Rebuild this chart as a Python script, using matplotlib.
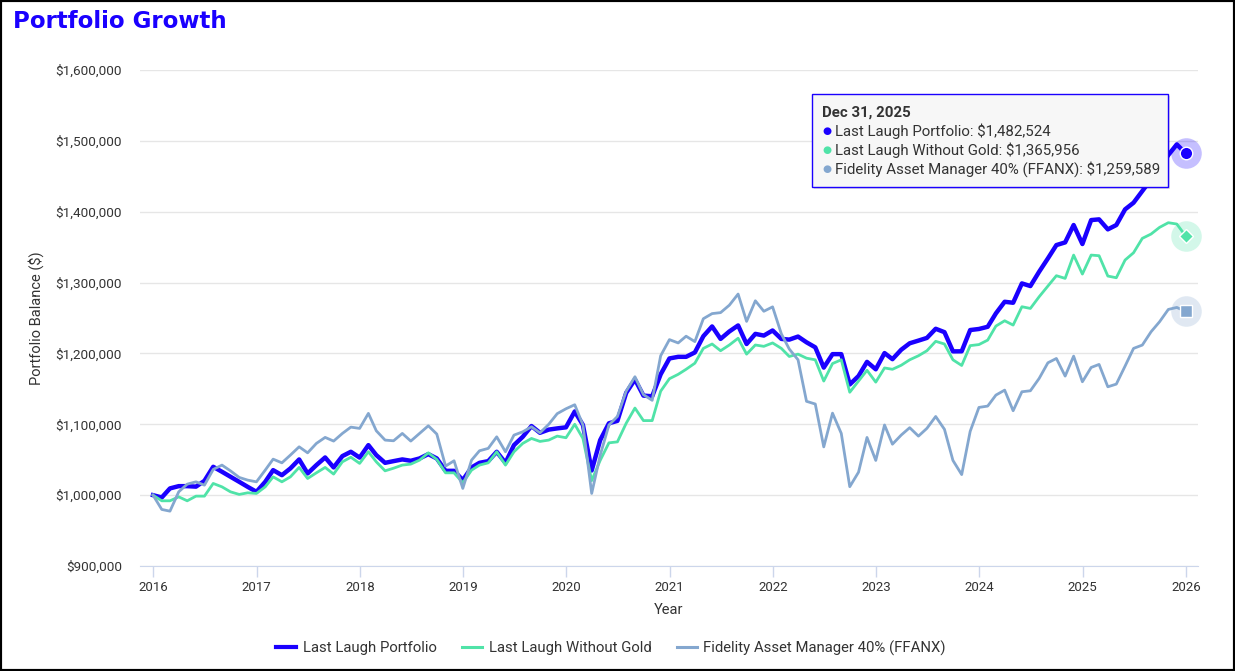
# plot.py
# Portfolio growth chart: three monthly series, Jan 2016 - Dec 2025

import pandas as pd
import matplotlib.pyplot as plt
import matplotlib.dates as mdates
from matplotlib.ticker import FuncFormatter
from matplotlib.patches import Rectangle, FancyBboxPatch

plt.rcParams['font.family'] = ['Roboto', 'DejaVu Sans']

# --- data ---
dates = pd.date_range("2015-12-31", periods=121, freq="ME")

last_laugh = [
    1000000, 996700, 1009500, 1012700, 1012700, 1012000, 1020200, 1040000, 1033000, 1026000,
    1018800, 1011700, 1004700, 1018800, 1035300, 1028200, 1037700, 1050400, 1030600, 1042400,
    1053200, 1039100, 1055100, 1061200, 1053000, 1070600, 1056500, 1045600, 1048000, 1050400,
    1048500, 1051800, 1057900, 1051800, 1034300, 1034300, 1021200, 1039100, 1045600, 1048000,
    1061200, 1045600, 1070600, 1082300, 1097500, 1088000, 1092500, 1094200, 1095700, 1118100,
    1099000, 1034800, 1077600, 1101400, 1104800, 1144300, 1163300, 1140500, 1139500, 1170500,
    1192900, 1195200, 1195200, 1201400, 1224300, 1238100, 1220500, 1231000, 1239500, 1213300,
    1227600, 1225200, 1232400, 1220500, 1219500, 1223800, 1215700, 1208600, 1180000, 1199000,
    1199000, 1156200, 1168100, 1188100, 1177600, 1200500, 1191900, 1205200, 1214300, 1218100,
    1221900, 1234800, 1230000, 1202900, 1203000, 1233000, 1234500, 1237600, 1256500, 1272900,
    1271500, 1298800, 1295100, 1315300, 1334100, 1352900, 1356700, 1381200, 1354400, 1388200,
    1389200, 1375100, 1381200, 1403300, 1412700, 1429200, 1445700, 1462000, 1480000, 1495000,
    1482524,
]

without_gold = [
    1000000, 992000, 992000, 997600, 992000, 998600, 998600, 1016500, 1011700, 1004700,
    1001000, 1003300, 1002400, 1011700, 1025800, 1018800, 1025800, 1039100, 1023500, 1031500,
    1039100, 1029700, 1047000, 1053500, 1044800, 1061200, 1047000, 1034300, 1038000, 1042400,
    1043800, 1049400, 1059700, 1050400, 1031500, 1031500, 1017400, 1035300, 1042400, 1045600,
    1061200, 1042400, 1061200, 1073000, 1080000, 1075800, 1077700, 1083300, 1081000, 1100000,
    1080000, 1020500, 1049000, 1073800, 1075200, 1101400, 1122900, 1105200, 1105200, 1146700,
    1164300, 1170500, 1177600, 1186200, 1207100, 1213300, 1203800, 1211900, 1221400, 1199000,
    1211900, 1210000, 1214800, 1207100, 1195700, 1199000, 1193300, 1191000, 1161000, 1185700,
    1191000, 1145200, 1161000, 1176200, 1159500, 1179500, 1177600, 1183300, 1191000, 1196700,
    1203800, 1217100, 1213300, 1191000, 1183000, 1211000, 1212500, 1218800, 1238600, 1246100,
    1240000, 1265900, 1263500, 1280000, 1295100, 1309700, 1305900, 1338800, 1312000, 1338800,
    1337900, 1309200, 1306800, 1331800, 1342100, 1362400, 1368500, 1377900, 1384500, 1382600,
    1365956,
]

ffanx = [
    1000000, 979800, 977400, 1004700, 1015500, 1018800, 1014100, 1036300, 1042400, 1034300,
    1025000, 1021200, 1018800, 1035300, 1050800, 1045600, 1056500, 1068200, 1059700, 1073000,
    1081500, 1076300, 1087100, 1096000, 1094200, 1115400, 1090800, 1077700, 1076700, 1087100,
    1076300, 1087100, 1097900, 1086200, 1041000, 1048500, 1009500, 1049400, 1062600, 1066000,
    1082300, 1061200, 1084700, 1089400, 1096500, 1088000, 1100000, 1115000, 1121900, 1127600,
    1099000, 1002400, 1056200, 1099000, 1111000, 1146700, 1167100, 1141900, 1133800, 1196700,
    1219500, 1214800, 1224300, 1216700, 1249000, 1256200, 1257600, 1268100, 1283800, 1245200,
    1274300, 1259500, 1265700, 1227600, 1206200, 1191000, 1132400, 1128600, 1068100, 1115700,
    1087100, 1011900, 1032400, 1081400, 1049000, 1099000, 1071900, 1084800, 1095200, 1083300,
    1094300, 1111000, 1092900, 1049000, 1029000, 1090000, 1123800, 1125700, 1141200, 1148200,
    1119100, 1145900, 1147300, 1164700, 1186800, 1192900, 1168000, 1196200, 1160000, 1180200,
    1184500, 1152900, 1156700, 1182100, 1207100, 1211800, 1230600, 1244700, 1262100, 1264900,
    1259589,
]

series_names = ["Last Laugh Portfolio", "Last Laugh Without Gold", "Fidelity Asset Manager 40% (FFANX)"]
colors = ["#1a00ff", "#50e3a8", "#84a7cf"]

W, H = 1235, 671
fig = plt.figure(figsize=(W / 100, H / 100), dpi=100)
ax = fig.add_axes([140 / W, 1 - 566 / H, (1198 - 140) / W, (566 - 70) / H])

# lines (blue at the bottom, FFANX on top)
ax.plot(dates, last_laugh, color=colors[0], lw=3.2, label=series_names[0], zorder=3,
        solid_joinstyle='round')
ax.plot(dates, without_gold, color=colors[1], lw=2.0, label=series_names[1], zorder=4)
ax.plot(dates, ffanx, color=colors[2], lw=2.0, label=series_names[2], zorder=5)

# hover markers with halos on the last point
last = dates[-1]
for vals, c, m, ms in [(last_laugh, colors[0], 'o', 9), (without_gold, colors[1], 'D', 7),
                       (ffanx, colors[2], 's', 8)]:
    ax.plot([last], [vals[-1]], marker='o', ms=22, color=c, alpha=0.25, mew=0, zorder=6,
            clip_on=False)
    ax.plot([last], [vals[-1]], marker=m, ms=ms, color=c, mec='white', mew=1, zorder=7,
            clip_on=False)

# axes styling
ax.set_ylim(900000, 1600000)
ax.set_xlim(pd.Timestamp("2015-11-15"), pd.Timestamp("2026-02-13"))
ax.set_yticks(range(900000, 1600001, 100000))
ax.yaxis.set_major_formatter(FuncFormatter(lambda v, p: "${:,.0f}".format(v)))
ax.set_xticks([pd.Timestamp(f"{y}-01-01") for y in range(2016, 2027)])
ax.xaxis.set_major_formatter(mdates.DateFormatter("%Y"))
ax.grid(axis='y', color='#e6e6e6', lw=1)
ax.set_axisbelow(True)
for s in ['top', 'right', 'left']:
    ax.spines[s].set_visible(False)
ax.spines['bottom'].set_color('#ccd6eb')
ax.tick_params(axis='x', colors='#ccd6eb', labelcolor='#333333', length=8, width=1,
               labelsize=9.5, pad=3)
ax.tick_params(axis='y', length=0, labelsize=9.7, labelcolor='#333333', pad=13)
ax.set_xlabel("Year", fontsize=10.5, color='#333333', labelpad=6)
ax.set_ylabel("Portfolio Balance ($)", fontsize=10.5, color='#333333', labelpad=8)

# title
fig.text(13 / W, 1 - 21 / H, "Portfolio Growth", fontsize=16.5, weight='bold', color='#1a00ff',
         family=['DejaVu Sans'], va='center', ha='left')

# legend
leg = fig.legend(loc='center', bbox_to_anchor=(611 / W, 1 - 648 / H), ncol=3, frameon=False,
                 fontsize=10.7, handlelength=1.34, columnspacing=1.7, handletextpad=0.45)
for t in leg.get_texts():
    t.set_color('#333333')
for ln, w in zip(leg.get_lines(), [3, 2.2, 2.2]):
    ln.set_linewidth(w)

# tooltip
x0, y0, x1, y1 = 812, 94, 1168, 187
fig.patches.append(FancyBboxPatch((x0 / W + 2 / W, 1 - y1 / H - 2 / H), (x1 - x0) / W, (y1 - y0) / H,
                                  boxstyle="square,pad=0", transform=fig.transFigure,
                                  fc='#000000', alpha=0.12, ec='none', zorder=9))
fig.patches.append(FancyBboxPatch((x0 / W, 1 - y1 / H), (x1 - x0) / W, (y1 - y0) / H,
                                  boxstyle="square,pad=0", transform=fig.transFigure,
                                  fc='#f7f7f7', ec='#1a00ff', lw=1, zorder=10))
fig.text(822 / W, 1 - 113 / H, "Dec 31, 2025", fontsize=10.8, weight='bold', color='#333333',
         va='center', ha='left', zorder=11)
tip_vals = [last_laugh[-1], without_gold[-1], ffanx[-1]]
for k, (name, c, v) in enumerate(zip(series_names, colors, tip_vals)):
    yy = 1 - (131 + k * 19) / H
    fig.text(822 / W, yy, "\u25cf", fontsize=7.5, color=c, va='center', ha='left', zorder=11,
             family=['DejaVu Sans'])
    fig.text(835 / W, yy, "{}: ${:,.0f}".format(name, v), fontsize=10.8, color='#333333',
             va='center', ha='left', zorder=11)

# black frame around the whole image
fig.patches.append(Rectangle((0, 0), 1, 1, transform=fig.transFigure, fill=False,
                             ec='black', lw=3, zorder=20))

fig.savefig("out.png", dpi=100)
